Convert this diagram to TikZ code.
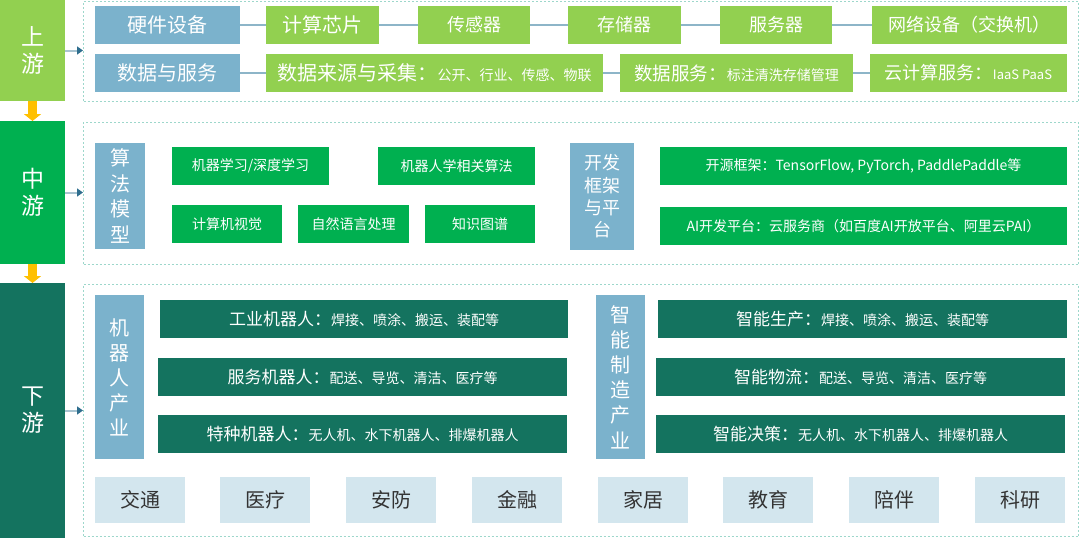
\documentclass[tikz,border=0pt]{standalone}
\usepackage{fontspec}
\setmainfont{Noto Sans CJK SC}
\usepackage{tikz}
\usetikzlibrary{arrows.meta, positioning}
\definecolor{upgreen}{HTML}{92D050}
\definecolor{midgreen}{HTML}{00B050}
\definecolor{downgreen}{HTML}{14735F}
\definecolor{catblue}{HTML}{7BB2CC}
\definecolor{appblue}{HTML}{D3E6EE}
\definecolor{apptext}{HTML}{333333}
\definecolor{zoneline}{HTML}{9DD7CB}
\definecolor{linkblue}{HTML}{8DB5C8}
\definecolor{feedline}{HTML}{A9C4D1}
\definecolor{feedhead}{HTML}{2F6E8E}
\definecolor{flowyellow}{HTML}{FFC000}
\newcommand{\fsz}[2]{\fontsize{#1pt}{#2pt}\selectfont}

\begin{document}
\begin{tikzpicture}[x=1pt,y=-1pt,
  cell/.style={anchor=north west, inner sep=0pt, outer sep=0pt, text=white, align=center},
  lvlbox/.style={cell, minimum width=65pt, font=\fsz{23}{27}},
  catbox/.style={cell, fill=catblue, font=\fsz{20}{22}},
  upbox/.style={cell, fill=upgreen, minimum height=38pt, font=\fsz{18}{20}},
  midbox/.style={cell, fill=midgreen, minimum height=38pt, font=\fsz{14}{16}},
  downbox/.style={cell, fill=downgreen, minimum height=38pt, font=\fsz{14}{16}},
  appbox/.style={cell, fill=appblue, text=apptext, minimum width=90pt, minimum height=46pt, font=\fsz{20}{22}},
  zonebox/.style={anchor=north west, inner sep=0pt, draw=zoneline, line width=1pt, dash pattern=on 2pt off 2pt, minimum width=995pt},
  linkline/.style={draw=linkblue, line width=1.5pt},
  feedarrow/.style={draw=feedline, line width=2pt, -{Triangle[length=6pt,width=8pt,color=feedhead]}},
  flowarrow/.style={draw=flowyellow, line width=9pt, -{Triangle[length=7pt,width=17pt]}}]
\useasboundingbox (0,0) rectangle (1080,538);

% zones
\node[zonebox, minimum height=100pt] (upzone) at (83,1) {};
\node[zonebox, minimum height=142pt] (midzone) at (83,122) {};
\node[zonebox, minimum height=252pt] (downzone) at (83,284) {};

% levels
\node[lvlbox, fill=upgreen, minimum height=101pt] (up) at (0,0) {上\\游};
\node[lvlbox, fill=midgreen, minimum height=143pt] (mid) at (0,121) {中\\游};
\node[lvlbox, fill=downgreen, minimum height=255pt] (down) at (0,283) {下\\游};
\draw[flowarrow] (up) -- (mid);
\draw[flowarrow] (mid) -- (down);
\draw[feedarrow] (up.east) -- (up.east -| upzone.west);
\draw[feedarrow] (mid.east) -- (mid.east -| midzone.west);
\draw[feedarrow] (down.east) -- (down.east -| downzone.west);

% upstream
\node[catbox, minimum width=145pt, minimum height=38pt] (hw) at (95,6) {硬件设备};
\node[upbox, minimum width=113pt, font=\fsz{20}{22}] (chip) at (266,6) {计算芯片};
\node[upbox, minimum width=112pt] (sensor) at (418,6) {传感器};
\node[upbox, minimum width=113pt] (store) at (568,6) {存储器};
\node[upbox, minimum width=112pt] (server) at (720,6) {服务器};
\node[upbox, minimum width=195pt] (net) at (872,6) {网络设备（交换机）};
\node[catbox, minimum width=145pt, minimum height=38pt] (data) at (95,54) {数据与服务};
\node[upbox, minimum width=337pt] (source) at (266,54) {{\fsz{20}{22}数据来源与采集：}\fsz{14}{16}公开、行业、传感、物联};
\node[upbox, minimum width=233pt] (dserv) at (620,54) {{\fsz{18.5}{20}数据服务：}\fsz{14}{16}标注清洗存储管理};
\node[upbox, minimum width=197pt] (cloud) at (870,54) {云计算服务：{\fsz{13}{15}IaaS PaaS}};
\draw[linkline] (hw) -- (chip) -- (sensor) -- (store) -- (server) -- (net);
\draw[linkline] (data) -- (source) -- (dserv) -- (cloud);

% midstream
\node[catbox, minimum width=50pt, minimum height=106pt, font=\fsz{20}{25.5}] (algo) at (95,143) {算\\法\\模\\型};
\node[midbox, minimum width=157pt] (ml) at (172,147) {机器学习/深度学习};
\node[midbox, minimum width=157pt] (robalg) at (378,147) {机器人学相关算法};
\node[midbox, minimum width=110pt] (cv) at (172,205) {计算机视觉};
\node[midbox, minimum width=111pt] (nlp) at (298,205) {自然语言处理};
\node[midbox, minimum width=110pt] (kg) at (425,205) {知识图谱};
\node[catbox, minimum width=64pt, minimum height=107pt, font=\fsz{18}{22.3}] (frame) at (570,143) {开发\\框架\\与平\\台};
\node[midbox, minimum width=407pt] (oss) at (660,147) {开源框架：TensorFlow, PyTorch, PaddlePaddle等};
\node[midbox, minimum width=407pt] (aiplat) at (660,207) {AI开发平台：云服务商（如百度AI开放平台、阿里云PAI）};

% downstream
\node[catbox, minimum width=49pt, minimum height=164pt, font=\fsz{20}{25}] (robot) at (95,295) {机\\器\\人\\产\\业};
\node[downbox, minimum width=408pt] (ind) at (160,300) {{\fsz{17}{19}工业机器人：}焊接、喷涂、搬运、装配等};
\node[downbox, minimum width=409pt] (serv) at (158,358) {{\fsz{17}{19}服务机器人：}配送、导览、清洁、医疗等};
\node[downbox, minimum width=409pt] (spec) at (158,415) {{\fsz{17}{19}特种机器人：}无人机、水下机器人、排爆机器人};
\node[catbox, minimum width=49pt, minimum height=164pt, font=\fsz{20}{25.2}] (smart) at (596,295) {智\\能\\制\\造\\产\\业};
\node[downbox, minimum width=409pt] (prod) at (658,300) {{\fsz{17}{19}智能生产：}焊接、喷涂、搬运、装配等};
\node[downbox, minimum width=409pt] (logi) at (656,358) {{\fsz{17}{19}智能物流：}配送、导览、清洁、医疗等};
\node[downbox, minimum width=409pt] (deci) at (656,415) {{\fsz{17}{19}智能决策：}无人机、水下机器人、排爆机器人};
\foreach \txt/\x [count=\i] in {交通/95, 医疗/220, 安防/346, 金融/472, 家居/598, 教育/723, 陪伴/849, 科研/975}
  \node[appbox] (app\i) at (\x,477) {\txt};
\end{tikzpicture}
\end{document}
